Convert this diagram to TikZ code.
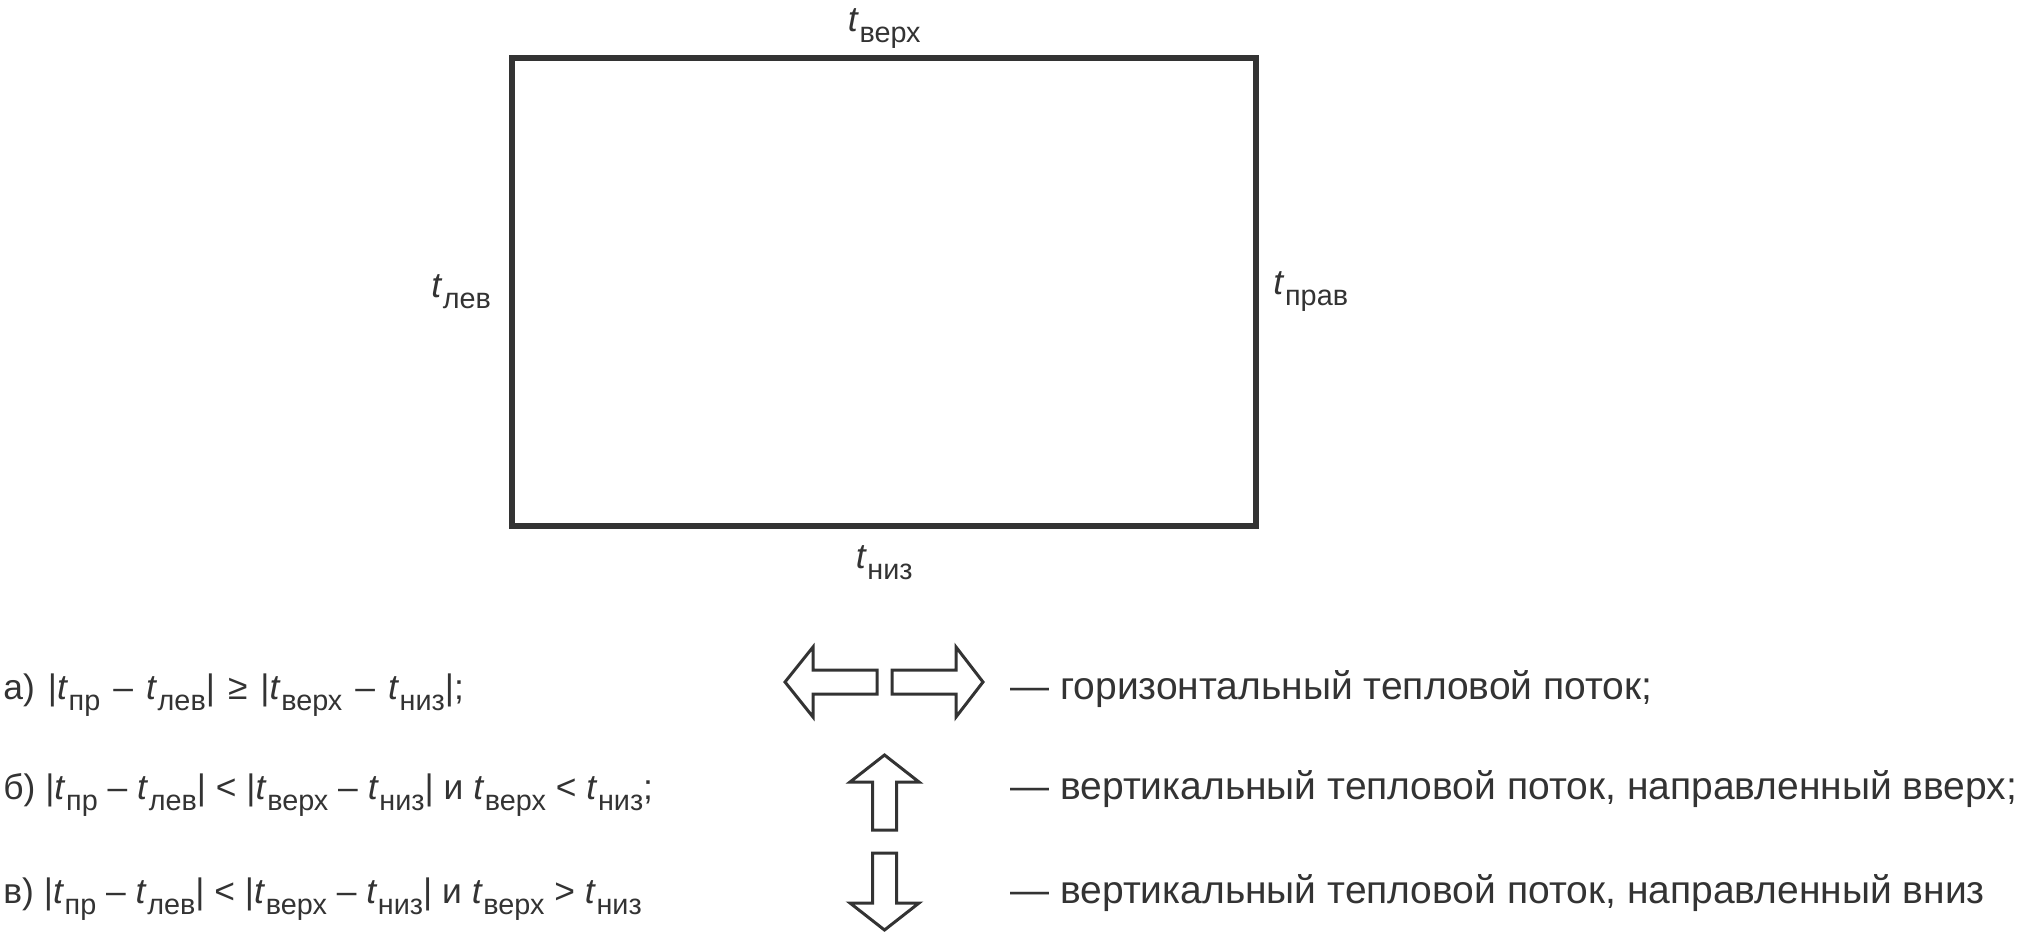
\documentclass[tikz,border=0pt]{standalone}
\usepackage{fontspec}
\setmainfont{Liberation Sans}
\usetikzlibrary{positioning}
\definecolor{ink}{HTML}{333333}
% t with a lowered upright subscript
\newcommand{\tv}[1]{\textit{t}\kern0.3pt\raisebox{-5.5pt}{\fontsize{14.4pt}{14.4pt}\selectfont #1}}

\begin{document}
\begin{tikzpicture}[x=0.5pt, y=-0.5pt,
  wallbox/.style={rectangle, draw=ink, line width=3pt, minimum width=371.8pt,
    minimum height=234pt, inner sep=0pt},
  tlabel/.style={font=\fontsize{17.7pt}{20pt}\selectfont, text=ink, inner sep=0pt},
  cond/.style={anchor=base west, font=\fontsize{17.7pt}{20pt}\selectfont, text=ink, inner sep=0pt},
  flowtext/.style={anchor=base west, font=\fontsize{19.5pt}{23pt}\selectfont, text=ink, inner sep=0pt},
  hollow/.style={draw=ink, line width=1.5pt, line join=miter},
]
  \useasboundingbox (0,0) rectangle (2021,937);

  \node[wallbox] (wall) at (884.25,292) {};
  \node[tlabel, above=3pt of wall] (tup) {\tv{верх}};
  \node[tlabel, left=9pt of wall] (tleft) {\tv{лев}};
  \node[tlabel, right=7pt of wall] (tright) {\tv{прав}};
  \node[tlabel, below=8pt of wall] (tdown) {\tv{низ}};

  \node[cond] (ca) at (3,699) {\spaceskip=6.5pt а) |\tv{пр} – \tv{лев}| ≥ |\tv{верх} – \tv{низ}|;};
  \node[cond] (cb) at (3,799) {б) |\tv{пр} – \tv{лев}| < |\tv{верх} – \tv{низ}| и \tv{верх} < \tv{низ};};
  \node[cond] (cc) at (3,903) {в) |\tv{пр} – \tv{лев}| < |\tv{верх} – \tv{низ}| и \tv{верх} > \tv{низ}};

  % heat flow arrows
  \draw[hollow] (785,682) -- (813,647) -- (813,670) -- (877,670) -- (877,694) -- (813,694) -- (813,717) -- cycle;
  \draw[hollow] (983,682) -- (956,647) -- (956,670) -- (892,670) -- (892,694) -- (956,694) -- (956,717) -- cycle;
  \draw[hollow] (884.5,755) -- (919,782) -- (896.5,782) -- (896.5,830) -- (872.5,830) -- (872.5,782) -- (850,782) -- cycle;
  \draw[hollow] (884.5,930) -- (919,903) -- (896.5,903) -- (896.5,853) -- (872.5,853) -- (872.5,903) -- (850,903) -- cycle;

  \node[flowtext] (fa) at (1010,699) {— горизонтальный тепловой поток;};
  \node[flowtext] (fb) at (1010,799) {— вертикальный тепловой поток, направленный вверх;};
  \node[flowtext] (fc) at (1010,903) {— вертикальный тепловой поток, направленный вниз};
\end{tikzpicture}
\end{document}
